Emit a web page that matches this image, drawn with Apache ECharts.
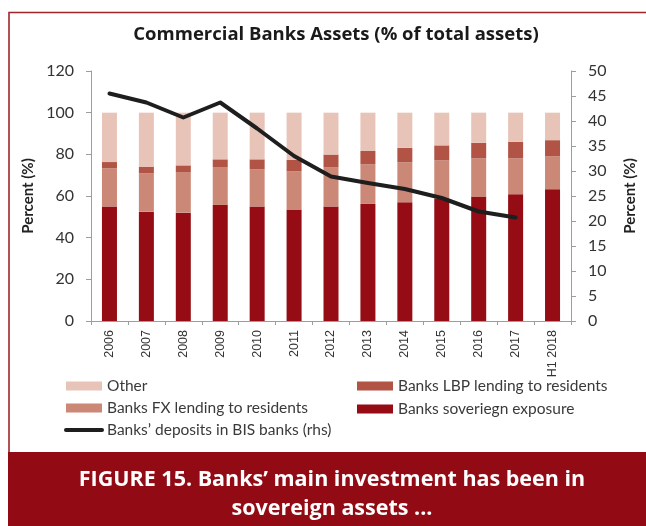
<!DOCTYPE html>
<html>
<head>
<meta charset="utf-8">
<script src="https://cdn.jsdelivr.net/npm/echarts@6/dist/echarts.min.js"></script>
<style>
  html, body { margin: 0; padding: 0; background: #fff; }
  #chart { width: 646px; height: 526px; }
</style>
</head>
<body>
<div id="chart"></div>
<script>
// Categories (years; last one is the first half of 2018)
const years = ['2006', '2007', '2008', '2009', '2010', '2011', '2012',
               '2013', '2014', '2015', '2016', '2017', 'H1 2018'];

// Shares of total assets, % (stacked bottom to top)
const sovereignExposure = [55.0, 52.5, 52.0, 55.7, 55.0, 53.5, 55.0, 56.2, 57.0, 58.8, 59.8, 60.9, 63.3];
const fxLending         = [18.3, 18.4, 19.5, 18.2, 17.8, 18.3, 18.7, 19.0, 19.2, 18.3, 18.3, 17.2, 15.7];
const lbpLending        = [ 3.0,  3.2,  3.2,  3.7,  4.8,  5.5,  6.2,  6.4,  6.9,  7.2,  7.4,  7.9,  7.8];
const otherAssets       = [23.7, 25.9, 25.3, 22.4, 22.4, 22.7, 20.1, 18.4, 16.9, 15.7, 14.5, 14.0, 13.2];

// Deposits in BIS banks, % (right-hand scale)
const bisDeposits = [45.5, 43.7, 40.7, 43.7, 38.5, 33.0, 28.9, 27.6, 26.4, 24.6, 21.9, 20.7, null];

// Axis ranges
const leftAxis  = { min: 0, max: 120, step: 20 };
const rightAxis = { min: 0, max: 50, step: 5 };

const chart = echarts.init(document.getElementById('chart'), null, { renderer: 'canvas' });

const C_OTHER = '#e8c4b8';
const C_FX = '#cb8876';
const C_LBP = '#b15445';
const C_SOV = '#950c14';
const C_LINE = '#1e1e1e';
const C_BAND = '#920b14';

const tickFont = { fontFamily: 'Lato', fontSize: 16, color: '#333' };
const nameFont = { fontFamily: 'Lato', fontSize: 15, fontWeight: 'bold', color: '#222' };
const legendFont = { fontFamily: 'Lato', fontSize: 15.5, color: '#3a3a3a', lineHeight: 15 };
const axisGrey = '#9d9d9d';

const barBase = { type: 'bar', stack: 'assets', barWidth: 15, yAxisIndex: 0 };

chart.setOption({
  animation: false,
  backgroundColor: '#fff',
  title: {
    text: 'Commercial Banks Assets (% of total assets)',
    left: 331, top: 20, textAlign: 'center',
    textStyle: { fontFamily: 'Open Sans', fontSize: 18.5, fontWeight: 'bold', color: '#1a1a1a' }
  },
  grid: { left: 91, right: 72, top: 71, bottom: 205 },
  legend: [
    {
      left: 59, top: 373, orient: 'vertical',
      itemWidth: 36, itemHeight: 9, itemGap: 6,
      textStyle: legendFont,
      data: [
        { name: 'Other', icon: 'rect' },
        { name: 'Banks FX lending to residents', icon: 'rect' },
        {
          name: 'Banks\u2019 deposits in BIS banks (rhs)',
          itemStyle: { color: 'rgba(0,0,0,0)', opacity: 0, borderWidth: 0 },
          lineStyle: { width: 4, color: C_LINE }
        }
      ]
    },
    {
      left: 352, top: 373, orient: 'vertical',
      itemWidth: 36, itemHeight: 9, itemGap: 7,
      textStyle: legendFont,
      data: [
        { name: 'Banks LBP lending to residents', icon: 'rect' },
        { name: 'Banks soveriegn exposure', icon: 'rect' }
      ]
    }
  ],
  xAxis: {
    type: 'category',
    data: years,
    boundaryGap: true,
    axisLine: { lineStyle: { color: axisGrey, width: 1 } },
    axisTick: { show: true, length: 4, lineStyle: { color: axisGrey } },
    axisLabel: { rotate: 90, margin: 9, fontFamily: 'Liberation Sans', fontSize: 12.5, color: '#333', interval: 0 }
  },
  yAxis: [
    {
      type: 'value', position: 'left',
      min: leftAxis.min, max: leftAxis.max, interval: leftAxis.step,
      name: 'Percent (%)', nameLocation: 'middle', nameGap: 54, nameTextStyle: nameFont,
      axisLine: { show: true, lineStyle: { color: axisGrey, width: 1 } },
      axisTick: { show: true, length: 5, lineStyle: { color: axisGrey } },
      axisLabel: Object.assign({ margin: 17 }, tickFont),
      splitLine: { show: false }
    },
    {
      type: 'value', position: 'right',
      min: rightAxis.min, max: rightAxis.max, interval: rightAxis.step,
      name: 'Percent (%)', nameLocation: 'middle', nameGap: 52, nameTextStyle: nameFont,
      axisLine: { show: true, lineStyle: { color: axisGrey, width: 1 } },
      axisTick: { show: true, length: 5, lineStyle: { color: axisGrey } },
      axisLabel: Object.assign({ margin: 17 }, tickFont),
      splitLine: { show: false }
    }
  ],
  series: [
    Object.assign({ name: 'Banks soveriegn exposure', data: sovereignExposure, itemStyle: { color: C_SOV } }, barBase),
    Object.assign({ name: 'Banks FX lending to residents', data: fxLending, itemStyle: { color: C_FX } }, barBase),
    Object.assign({ name: 'Banks LBP lending to residents', data: lbpLending, itemStyle: { color: C_LBP } }, barBase),
    Object.assign({ name: 'Other', data: otherAssets, itemStyle: { color: C_OTHER } }, barBase),
    {
      name: 'Banks\u2019 deposits in BIS banks (rhs)',
      type: 'line', yAxisIndex: 1,
      data: bisDeposits,
      symbol: 'none',
      smooth: false,
      lineStyle: { color: C_LINE, width: 4, cap: 'round', join: 'round' },
      itemStyle: { color: C_LINE },
      z: 5
    }
  ],
  graphic: [
    // outer frame (continues past the right edge)
    {
      type: 'rect', z: -1, silent: true,
      shape: { x: 9, y: 12.5, width: 700, height: 460 },
      style: { fill: 'none', stroke: '#a0262b', lineWidth: 1.6 }
    },
    // caption band
    {
      type: 'rect', z: 10, silent: true,
      shape: { x: 8, y: 452, width: 640, height: 80 },
      style: { fill: C_BAND }
    },
    {
      type: 'text', z: 11, silent: true,
      x: 332, y: 465,
      style: {
        text: 'FIGURE 15. Banks\u2019 main investment has been in\nsovereign assets ...',
        fill: '#fff', fontFamily: 'Open Sans', fontSize: 21.5, fontWeight: 'bold',
        lineHeight: 29, align: 'center', verticalAlign: 'top'
      }
    }
  ]
});
</script>
</body>
</html>
